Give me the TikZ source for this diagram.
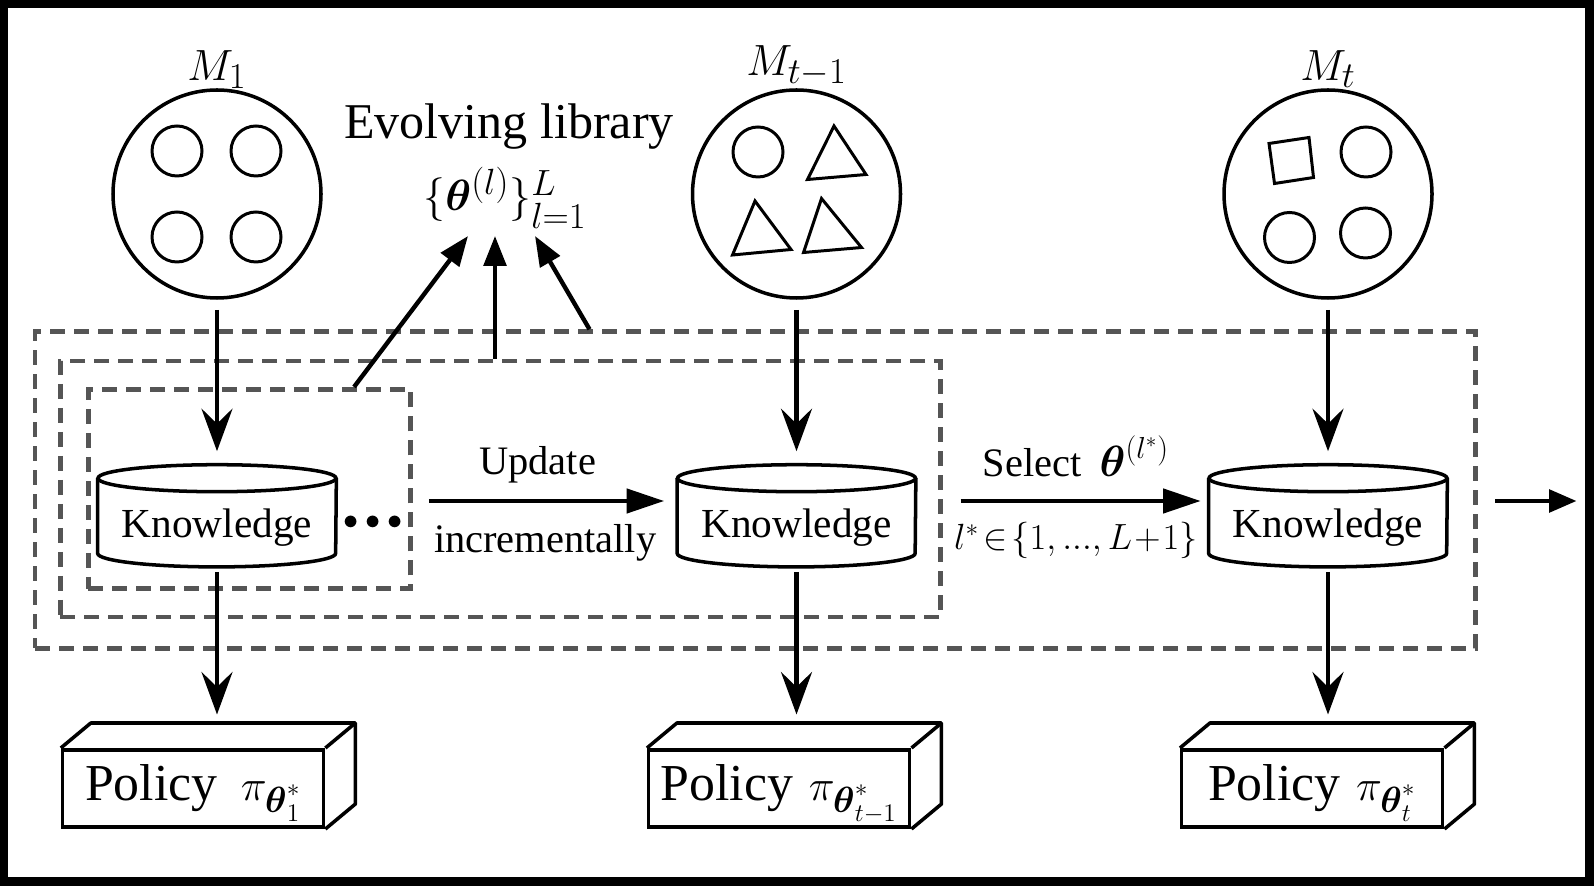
\documentclass[tikz,border=0pt]{standalone}
\usepackage{amsmath, amssymb}
\usepackage{fontspec}
\setmainfont{Liberation Serif}
\usetikzlibrary{arrows.meta, positioning, calc}
\definecolor{dashgray}{HTML}{555555}

\begin{document}
\begin{tikzpicture}[scale=1,
    env/.style={circle, draw, line width=2pt, minimum size=4.16cm, inner sep=0pt},
    shp/.style={line width=1.7pt},
    mlab/.style={inner sep=0pt, font=\fontsize{31}{34}\selectfont},
    know/.style={minimum width=4.76cm, minimum height=2.03cm, inner sep=0pt, text height=0.95cm, text depth=0.09cm, font=\fontsize{23.5}{26}\selectfont},
    frame/.style={draw=dashgray, line width=2.8pt, dash pattern=on 0.3cm off 0.18cm, inner sep=0pt},
    policy/.style={draw, line width=2pt, minimum width=5.22cm, minimum height=1.55cm, inner sep=0pt, text height=0.75cm, text depth=0.29cm, font=\fontsize{29.5}{32}\selectfont},
    varrow/.style={line width=2.5pt, -{Stealth[length=0.85cm, width=0.62cm, inset=0.3cm]}},
    harrow/.style={line width=2.5pt, -{Triangle[length=0.75cm, width=0.48cm]}},
    rarrow/.style={line width=2.5pt, -{Triangle[length=0.55cm, width=0.45cm]}},
    larrow/.style={line width=2.5pt, -{Triangle[length=0.6cm, width=0.45cm]}},
    lab/.style={font=\fontsize{23}{26}\selectfont, anchor=base},
    mathlab/.style={font=\fontsize{20.5}{24}\selectfont, anchor=base}
]
    % Black frame
    \useasboundingbox (0,0) rectangle (31.88,17.72);
    \fill[black] (0,0) rectangle (31.88,17.72);
    \fill[white] (0.16,0.18) rectangle (31.69,17.56);

    % Task environments
    \node[env] (m1) at (4.34,13.84) {};
    \node[env] (m2) at (15.93,13.84) {};
    \node[env] (m3) at (26.56,13.84) {};
    \node[mlab, above=-0.02cm of m1] (m1lab) {$M_1$};
    \node[mlab, above=0.02cm of m2] (m2lab) {$M_{t-1}$};
    \node[mlab, above=0cm of m3] (m3lab) {$M_t$};

    % Shapes inside the environments
    \foreach \dx/\dy in {-0.8/0.86, 0.78/0.86, -0.8/-0.86, 0.78/-0.86}
        \draw[shp] ($(m1)+(\dx,\dy)$) circle (0.5);
    \begin{scope}[shift={(m2)}]
        \draw[shp] (-0.77,0.84) circle (0.5);
        \draw[shp] (0.75,1.36) -- (0.22,0.29) -- (1.39,0.39) -- cycle;
        \draw[shp] (-0.83,-0.14) -- (-1.28,-1.22) -- (-0.11,-1.11) -- cycle;
        \draw[shp] (0.5,-0.09) -- (0.14,-1.17) -- (1.3,-1.07) -- cycle;
    \end{scope}
    \begin{scope}[shift={(m3)}]
        \draw[shp] (-1.18,1.01) -- (-0.38,1.13) -- (-0.29,0.33) -- (-1.07,0.21) -- cycle;
        \draw[shp] (0.76,0.84) circle (0.5);
        \draw[shp] (-0.77,-0.87) circle (0.5);
        \draw[shp] (0.75,-0.78) circle (0.5);
    \end{scope}

    % Dashed frames
    \node[frame, minimum width=28.81cm, minimum height=6.33cm] (outer) at (15.105,7.92) {};
    \node[frame, minimum width=17.61cm, minimum height=5.12cm] (middle) at (10.007,7.94) {};
    \node[frame, minimum width=6.45cm, minimum height=3.99cm] (inner) at (4.991,7.937) {};

    % Knowledge bases
    \node[know] (kn1) at (4.34,7.404) {Knowledge};
    \node[know] (kn2) at (15.93,7.404) {Knowledge};
    \node[know] (kn3) at (26.56,7.404) {Knowledge};
    \foreach \k in {kn1,kn2,kn3} {
        \draw[line width=2pt] ([yshift=-0.27cm]\k.north) ellipse (2.38cm and 0.27cm);
        \draw[line width=2pt] ([yshift=-0.27cm]\k.north west) -- ([yshift=0.27cm]\k.south west)
            arc (180:360:2.38cm and 0.27cm) -- ([yshift=-0.27cm]\k.north east);
    }
    \node[inner sep=0pt, font=\fontsize{19}{22}\selectfont, right=0.14cm of kn1, yshift=-0.13cm] (dots) {${\bullet}\mkern4mu{\bullet}\mkern4mu{\bullet}$};

    % Policies
    \node[policy] (pol1) at (3.862,1.95) {Policy\hspace{0.45em}$\pi_{\boldsymbol{\theta}_1^*}$};
    \node[policy] (pol2) at (15.584,1.95) {Policy\hspace{0.3em}$\pi_{\boldsymbol{\theta}_{t-1}^*}$};
    \node[policy] (pol3) at (26.244,1.95) {Policy\hspace{0.3em}$\pi_{\boldsymbol{\theta}_t^*}$};
    \foreach \p in {pol1,pol2,pol3} {
        \draw[line width=2pt, line join=round] (\p.north west) -- ++(0.6,0.5) -- ($(\p.north east)+(0.6,0.5)$)
            -- ($(\p.south east)+(0.6,0.5)$) -- (\p.south east);
        \draw[line width=2pt] (\p.north east) -- ++(0.6,0.5);
    }

    % Evolving library
    \node[inner sep=0pt, font=\fontsize{28.5}{32}\selectfont, anchor=base] (evo) at (10.18,14.94) {Evolving library};
    \node[inner sep=0pt, font=\fontsize{29}{32}\selectfont, anchor=base] (lib) at (10.1,13.5) {$\{\boldsymbol{\theta}^{(l)}\}_{l=1}^{L}$};
    \draw[larrow] ([xshift=2.09cm]inner.north) -- ([shift={(-0.74,-0.5)}]lib.base);
    \draw[larrow] ([xshift=-0.107cm]middle.north) -- ([shift={(-0.2,-0.5)}]lib.base);
    \draw[larrow] ([xshift=-3.315cm]outer.north) -- ([shift={(0.6,-0.5)}]lib.base);

    % Vertical arrows
    \foreach \i in {1,2,3} {
        \draw[varrow, shorten <=0.2cm, shorten >=0.27cm] (m\i) -- (kn\i);
        \draw[varrow, shorten <=0.1cm] (kn\i) -- ($(kn\i.south |- pol\i.north)+(0,0.67)$);
    }

    % Horizontal arrows
    \coordinate (row) at (0,7.70);
    \coordinate (nxt) at (31.53,7.70);
    \draw[harrow, shorten <=0.31cm, shorten >=0.26cm] (inner.east |- row) -- (kn2.west |- row)
        node[lab, midway, xshift=-0.15cm, yshift=0.52cm] {Update}
        node[lab, midway, yshift=-1.04cm] {incrementally};
    \draw[harrow, shorten <=0.35cm, shorten >=0.16cm] (middle.east |- row) -- (kn3.west |- row)
        node[lab, midway, yshift=0.48cm] {Select\hspace{0.45em}$\boldsymbol{\theta}^{(l^*)}$}
        node[mathlab, midway, yshift=-0.98cm] {$l^*\!\in\!\{1, ..., L\!+\!1\}$};
    \draw[rarrow, shorten <=0.35cm] (outer.east |- row) -- (nxt);
\end{tikzpicture}
\end{document}
